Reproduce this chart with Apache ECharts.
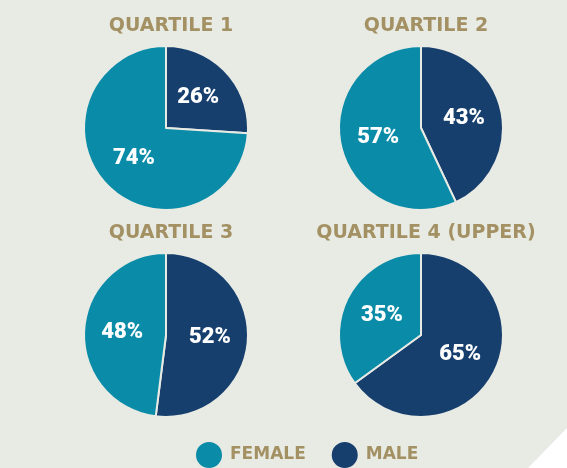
<!DOCTYPE html>
<html>
<head>
<meta charset="utf-8">
<script src="https://cdn.jsdelivr.net/npm/echarts@6/dist/echarts.min.js"></script>
<style>
  html, body { margin: 0; padding: 0; background: #e8eae4; }
  #chart { width: 567px; height: 468px; }
</style>
</head>
<body>
<div id="chart"></div>
<script>
// quartile names and shares (percent)
var quartiles = ['QUARTILE 1', 'QUARTILE 2', 'QUARTILE 3', 'QUARTILE 4 (UPPER)']
var male = [26, 43, 52, 65]
var female = [74, 57, 48, 35]
var groups = ['FEMALE', 'MALE']

var teal = '#0a8ca8'
var navy = '#163f6e'
var gold = '#a39164'
var bg = '#e8eae4'

var centers = [[166, 128], [421, 128], [166, 335], [421, 335]]
var titleTops = [12, 12, 219, 219]

var mychart = echarts.init(document.getElementById('chart'))

var titles = []
var series = []
for (var i = 0; i < quartiles.length; i++) {
  titles.push({
    text: quartiles[i],
    left: centers[i][0],
    top: titleTops[i],
    textAlign: 'center',
    textStyle: {
      color: gold,
      fontFamily: 'DejaVu Sans',
      fontWeight: 'bold',
      fontSize: 19
    }
  })
  series.push({
    name: quartiles[i],
    type: 'pie',
    center: centers[i],
    radius: 82,
    startAngle: 90,
    clockwise: true,
    silent: true,
    animation: false,
    itemStyle: { borderColor: bg, borderWidth: 2 },
    label: {
      show: true,
      position: 'inside',
      formatter: '{c}%',
      color: '#fff',
      fontFamily: 'Roboto',
      fontWeight: 900,
      fontSize: 22
    },
    labelLine: { show: false },
    data: [
      { name: 'MALE', value: male[i], itemStyle: { color: navy } },
      { name: 'FEMALE', value: female[i], itemStyle: { color: teal } }
    ]
  })
}

var options = {
  backgroundColor: bg,
  title: titles,
  legend: {
    data: groups,
    left: 189,
    top: 435,
    icon: 'circle',
    itemWidth: 28,
    itemHeight: 28,
    itemGap: 24,
    selectedMode: false,
    textStyle: {
      color: gold,
      fontFamily: 'DejaVu Sans',
      fontWeight: 'bold',
      fontSize: 17,
      padding: [0, 0, 0, 2]
    }
  },
  graphic: [{
    type: 'polygon',
    silent: true,
    shape: { points: [[528, 468], [567, 428], [567, 468]] },
    style: { fill: '#ffffff' }
  }],
  series: series
}

mychart.setOption(options)
</script>
</body>
</html>
